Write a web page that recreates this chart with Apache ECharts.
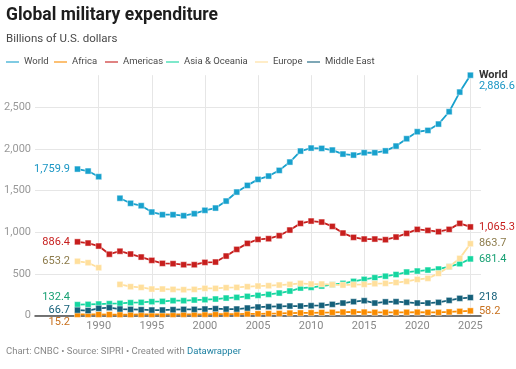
<!DOCTYPE html>
<html>
<head>
<meta charset="utf-8">
<script src="https://cdn.jsdelivr.net/npm/echarts@6/dist/echarts.min.js"></script>
<style>
html,body{margin:0;padding:0;background:#fff;}
#chart{width:516px;height:369px;}
</style>
</head>
<body>
<div id="chart"></div>
<script>
// ---- Data (billions of U.S. dollars), years 1988–2025 ----
const years = [1988,1989,1990,1991,1992,1993,1994,1995,1996,1997,1998,1999,2000,2001,2002,2003,2004,2005,2006,2007,2008,2009,2010,2011,2012,2013,2014,2015,2016,2017,2018,2019,2020,2021,2022,2023,2024,2025];
const world = [1759.9,1736,1668,null,1410,1349,1320,1244,1212,1212,1200,1224,1265,1292,1376,1484,1564,1636,1676,1744,1844,1976,2012,2008,1988,1940,1928,1956,1956,1978,2036,2124,2208,2224,2300,2448,2684,2886.6];
const africa = [15.2,15,15,14,14,14,15,15,15,15,16,17,17,18,19,20,22,23,25,27,31,33,35,38,40,43,45,43,40,40,40,41,42,40,40,45,52,58.2];
const americas = [886.4,872,836,738,774,740,704,664,628,624,612,612,640,644,716,796,868,916,924,960,1028,1108,1136,1124,1072,992,940,920,920,912,944,988,1036,1024,1008,1036,1108,1065.3];
const asiaOceania = [132.4,136,140,144,148,156,160,168,172,180,180,188,192,200,212,220,232,244,256,272,296,332,340,356,372,388,412,436,456,474,494,524,536,548,560,588,624,681.4];
const europe = [653.2,636,576,null,376,348,340,320,320,316,312,316,328,328,336,340,348,356,360,368,376,388,380,380,372,368,372,376,384,388,398,412,436,448,508,588,688,863.7];
const middleEast = [66.7,62,88,96,80,76,72,68,68,72,76,76,80,84,80,80,92,104,108,112,116,116,120,124,136,152,168,180,152,166,168,160,152,152,160,184,208,218];
const seriesNames = ['World','Africa','Americas','Asia & Oceania','Europe','Middle East'];
const yTicks = [0,500,1000,1500,2000,2500];
const xTickYears = [1990,1995,2000,2005,2010,2015,2020,2025];
const axisYears = [];
for (let y = 1984; y <= 2026; y++) axisYears.push(String(y));

const fmt = v => v.toLocaleString('en-US', {maximumFractionDigits: 1});
const FONT = 'Roboto';

function buildData(values, labelColor, leftOffset, rightLabel) {
  const start = axisYears.indexOf(String(years[0]));
  const out = axisYears.map(() => null);
  values.forEach((v, i) => {
    let item = v;
    if (i === 0) {
      item = {value: v, label: {show: true, position: 'left', distance: 4, color: labelColor,
        fontSize: 11, fontFamily: FONT, offset: leftOffset, formatter: () => fmt(v)}};
    } else if (i === values.length - 1) {
      item = {value: v, label: Object.assign({show: true, position: 'right', distance: 5, color: labelColor,
        fontSize: 11, fontFamily: FONT, formatter: () => fmt(v)}, rightLabel || {})};
    }
    out[start + i] = item;
  });
  return out;
}

function mkSeries(name, values, color, labelColor, leftOffset, rightLabel) {
  return {
    name, type: 'line', data: buildData(values, labelColor, leftOffset, rightLabel),
    symbol: 'rect', symbolSize: 6, showSymbol: true, connectNulls: false,
    lineStyle: {width: 1.8, color},
    itemStyle: {color, borderColor: 'rgba(255,255,255,0.45)', borderWidth: 1},
    emphasis: {disabled: true}, animation: false
  };
}

const chart = echarts.init(document.getElementById('chart'), null, {renderer: 'canvas'});
const isTick = (idx, val) => xTickYears.includes(+val);
const legendLefts = [5, 53, 104, 165, 254, 306];

const worldLast = world[world.length - 1];
chart.setOption({
  animation: false,
  textStyle: {fontFamily: FONT},
  title: [
    {text: 'Global military expenditure', left: 6, top: 7, padding: 0,
      textStyle: {fontSize: 17.5, fontWeight: 'bold', color: '#1d1d1d', fontFamily: FONT}},
    {text: 'Billions of U.S. dollars', left: 6, top: 33, padding: 0,
      textStyle: {fontSize: 11.5, fontWeight: 'normal', color: '#494949', fontFamily: FONT}},
    {text: '{a|Chart: CNBC • Source: SIPRI • Created with }{b|Datawrapper}', left: 6, top: 347, padding: 0,
      textStyle: {fontWeight: 'normal', rich: {
        a: {fontSize: 9.5, fontWeight: 'normal', color: '#888', fontFamily: FONT},
        b: {fontSize: 9.5, fontWeight: 'normal', color: '#1d81a2', fontFamily: FONT}}}}
  ],
  legend: seriesNames.map((n, i) => ({
    left: legendLefts[i], top: 57, padding: 0, icon: 'rect', itemWidth: 13, itemHeight: 2,
    textStyle: {fontSize: 9.5, color: '#494949', fontFamily: FONT},
    data: [n]
  })),
  grid: {left: 35, right: 35, top: 75.2, bottom: 53.3, containLabel: false},
  xAxis: {
    type: 'category', data: axisYears, boundaryGap: false,
    axisLine: {show: true, lineStyle: {color: '#4a4a4a', width: 1.5}},
    axisTick: {show: false},
    axisLabel: {interval: isTick, color: '#888', fontSize: 11, fontFamily: FONT, margin: 5},
    splitLine: {show: true, interval: isTick, lineStyle: {color: '#e6e6e6', width: 1}}
  },
  yAxis: {
    type: 'value', min: 0, max: worldLast, interval: 500,
    axisLine: {show: false}, axisTick: {show: false},
    axisLabel: {color: '#999', fontSize: 11, fontFamily: FONT, margin: 4,
      formatter: v => yTicks.includes(v) ? v.toLocaleString('en-US') : '', showMaxLabel: false},
    splitLine: {show: true, showMaxLine: false, lineStyle: {color: '#e6e6e6', width: 1}}
  },
  series: [
    mkSeries(seriesNames[0], world, '#18a1cd', '#1a96c4', [0, 0], {
      formatter: () => '{n|World}\n{v|' + fmt(worldLast) + '}', offset: [0, 6],
      rich: {n: {fontWeight: 'bold', color: '#333', fontSize: 11, fontFamily: FONT, lineHeight: 11},
             v: {color: '#1a96c4', fontSize: 11, fontFamily: FONT, lineHeight: 11}}}),
    mkSeries(seriesNames[1], africa, '#fa8c00', '#c8711e', [0, 8]),
    mkSeries(seriesNames[2], americas, '#c71e1d', '#c71e1d', [0, 0]),
    mkSeries(seriesNames[3], asiaOceania, '#15d6a0', '#17a073', [0, -7]),
    mkSeries(seriesNames[4], europe, '#ffdf9c', '#8c7b4b', [0, 0]),
    mkSeries(seriesNames[5], middleEast, '#15607a', '#15607a', [0, 0])
  ]
});
</script>
</body>
</html>
